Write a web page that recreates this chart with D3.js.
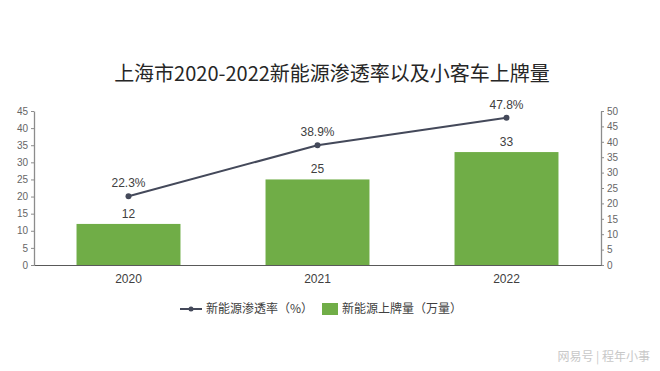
<!DOCTYPE html>
<html>
<head>
<meta charset="utf-8">
<script src="https://cdn.jsdelivr.net/npm/d3@7"></script>
<style>
  body { margin: 0; background: #fff; }
  svg { display: block; font-family: "Noto Sans CJK SC", "Noto Sans", sans-serif; }
</style>
</head>
<body>
<svg width="660" height="371"></svg>
<script>
// datos del gráfico
const years = ["2020", "2021", "2022"];
const plates = [12, 25, 33];          // 新能源上牌量（万量）
const rates = [22.3, 38.9, 47.8];     // 新能源渗透率（%）
const leftTicks = [0, 5, 10, 15, 20, 25, 30, 35, 40, 45];
const rightTicks = [0, 5, 10, 15, 20, 25, 30, 35, 40, 45, 50];

const svg = d3.select("svg");
const plotLeft = 34, plotRight = 601, plotTop = 111, plotBottom = 265;

const x = d3.scaleBand().domain(years).range([plotLeft, plotRight]).paddingInner(0.45).paddingOuter(0.225);
const yL = d3.scaleLinear().domain([0, 45]).range([plotBottom, plotTop]);
const yR = d3.scaleLinear().domain([0, 50]).range([plotBottom, plotTop]);

// título
svg.append("text")
    .attr("x", 332).attr("y", 81)
    .attr("text-anchor", "middle")
    .style("font-size", "20px")
    .style("fill", "#262626")
    .text("上海市2020-2022新能源渗透率以及小客车上牌量");

// ejes
const axisL = svg.append("g")
    .attr("transform", `translate(${plotLeft},0)`)
    .call(d3.axisLeft(yL).tickValues(leftTicks).tickSize(3).tickSizeOuter(0));
const axisR = svg.append("g")
    .attr("transform", `translate(${plotRight},0)`)
    .call(d3.axisRight(yR).tickValues(rightTicks).tickSize(3).tickSizeOuter(0));
[axisL, axisR].forEach(a => {
    a.select(".domain").attr("stroke", "#8c8c8c").attr("stroke-width", 1.3);
    a.selectAll(".tick line").attr("stroke", "#8c8c8c");
    a.selectAll("text").style("font-size", "10px").style("fill", "#666")
        .style("font-family", "'Liberation Sans', Arial, sans-serif");
});

// barras
svg.append("g").selectAll("rect")
    .data(plates)
    .enter()
    .append("rect")
    .attr("x", (d, i) => x(years[i]))
    .attr("y", d => yL(d))
    .attr("width", x.bandwidth())
    .attr("height", d => plotBottom - yL(d))
    .style("fill", "#70ad47");

svg.append("g").selectAll("text")
    .data(plates)
    .enter()
    .append("text")
    .attr("x", (d, i) => x(years[i]) + x.bandwidth() / 2)
    .attr("y", d => yL(d) - 6)
    .attr("text-anchor", "middle")
    .style("font-size", "12px")
    .style("fill", "#404040")
    .style("font-family", "'Liberation Sans', Arial, sans-serif")
    .text(d => d);

// línea base del eje x
const axisX = svg.append("g")
    .attr("transform", `translate(0,${plotBottom})`)
    .call(d3.axisBottom(x).tickSize(0).tickPadding(9));
axisX.select(".domain").attr("stroke", "#595959").attr("stroke-width", 1.2);
axisX.selectAll("text").style("font-size", "12px").style("fill", "#404040")
    .style("font-family", "'Liberation Sans', Arial, sans-serif");

// línea de penetración
const cx = (d, i) => x(years[i]) + x.bandwidth() / 2;
const line = d3.line().x(cx).y(d => yR(d));
svg.append("path")
    .datum(rates)
    .attr("d", line)
    .style("fill", "none")
    .style("stroke", "#44495a")
    .style("stroke-width", 2);

svg.append("g").selectAll("circle")
    .data(rates)
    .enter()
    .append("circle")
    .attr("cx", cx)
    .attr("cy", d => yR(d))
    .attr("r", 3)
    .style("fill", "#44495a");

svg.append("g").selectAll("text")
    .data(rates)
    .enter()
    .append("text")
    .attr("x", cx)
    .attr("y", d => yR(d) - 9)
    .attr("text-anchor", "middle")
    .style("font-size", "12px")
    .style("fill", "#404040")
    .style("font-family", "'Liberation Sans', Arial, sans-serif")
    .text(d => `${d.toFixed(1)}%`);

// leyenda
const legend = svg.append("g").style("font-size", "12px").style("fill", "#404040");
legend.append("line")
    .attr("x1", 180).attr("x2", 202).attr("y1", 309).attr("y2", 309)
    .style("stroke", "#44495a").style("stroke-width", 2);
legend.append("circle").attr("cx", 191).attr("cy", 309).attr("r", 2.5).style("fill", "#44495a");
legend.append("text").attr("x", 206).attr("y", 313).style("fill", "#404040").text("新能源渗透率（%）");
legend.append("rect").attr("x", 322).attr("y", 303).attr("width", 16).attr("height", 12).style("fill", "#70ad47");
legend.append("text").attr("x", 342).attr("y", 313).style("fill", "#404040").text("新能源上牌量（万量）");

// marca de agua
svg.append("text")
    .attr("x", 650).attr("y", 361)
    .attr("text-anchor", "end")
    .style("font-size", "12px")
    .style("fill", "#c8c8c8")
    .text("网易号 | 程年小事");
</script>
</body>
</html>
